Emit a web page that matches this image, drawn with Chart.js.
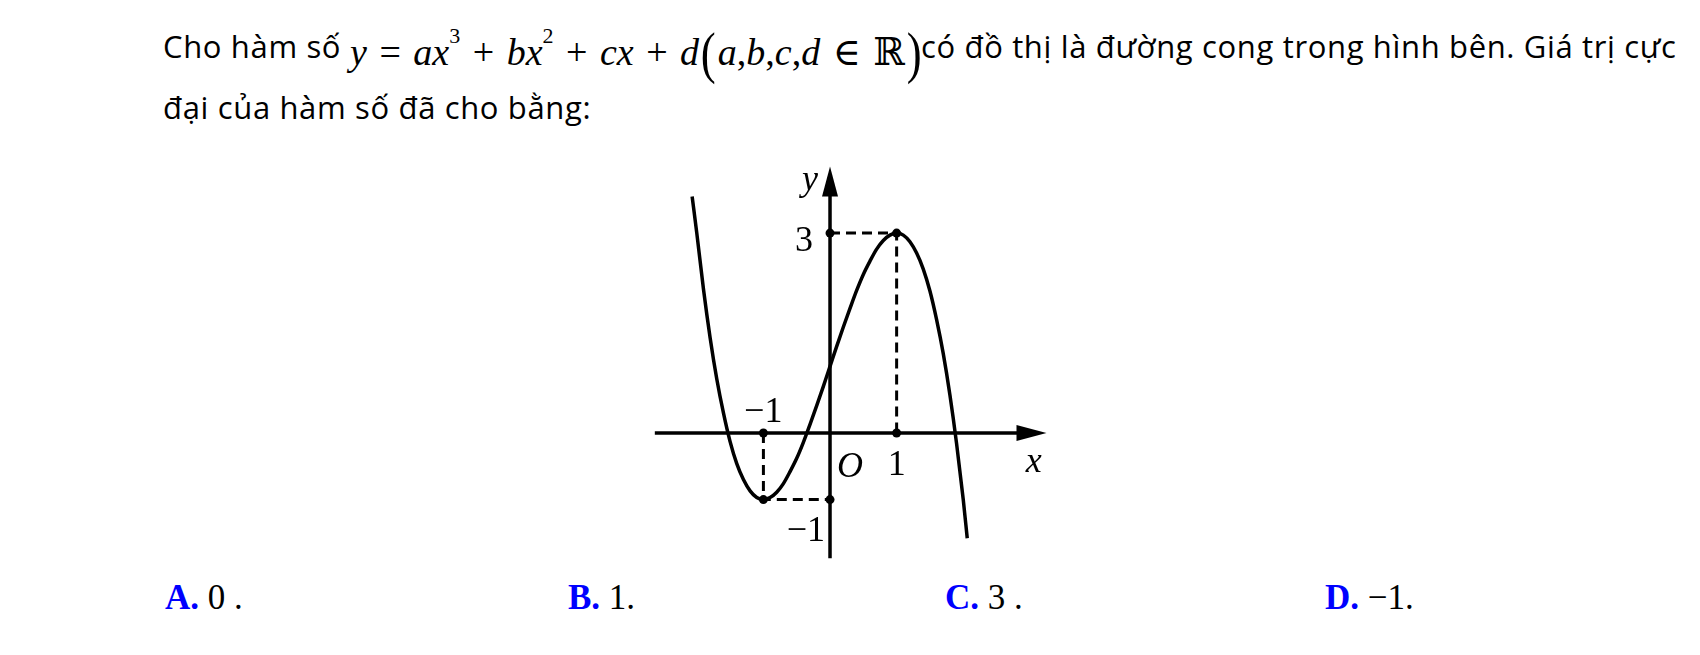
<!DOCTYPE html>
<html>
<head>
<meta charset="utf-8">
<script src="https://cdn.jsdelivr.net/npm/chart.js@4.4.1/dist/chart.umd.min.js"></script>
<style>
  body { margin: 0; background: #fff; }
  #page { position: relative; width: 1700px; height: 655px; overflow: hidden; }
  .txt { position: absolute; font-family: "Open Sans", Lato, sans-serif; font-size: 31px; letter-spacing: 0.65px; color: #000; white-space: nowrap; line-height: 1; }
  .math { position: absolute; font-family: "Liberation Serif", "DejaVu Serif", serif; font-size: 38px; word-spacing: 3px; color: #000; white-space: nowrap; line-height: 1; }
  .math i { font-style: italic; }
  .math sup { font-size: 22px; position: relative; top: -8px; }
  .big { font-size: 56px; display: inline-block; transform: scaleX(0.8); vertical-align: -7px; }
  .ans { position: absolute; font-family: "Liberation Serif", serif; font-size: 35px; color: #000; white-space: nowrap; line-height: 1; }
  .ans b { color: #0000ff; }
  #chart { position: absolute; left: 639px; top: 142px; }
</style>
</head>
<body>
<div id="page">
  <div class="txt" style="left:163px; top:31px;">Cho hàm số</div>
  <div class="math" style="left:350px; top:25px;"><i>y</i> = <i>ax</i><sup>3</sup> + <i>bx</i><sup>2</sup> + <i>cx</i> + <i>d</i><span class="big">(</span><i>a</i>,<i>b</i>,<i>c</i>,<i>d</i> ∈ ℝ<span class="big">)</span></div>
  <div class="txt" style="left:921px; top:31px;">có đồ thị là đường cong trong hình bên. Giá trị cực</div>
  <div class="txt" style="left:163px; top:92px;">đại của hàm số đã cho bằng:</div>

  <div class="ans" style="left:165px; top:580px;"><b>A.</b> 0 .</div>
  <div class="ans" style="left:568px; top:580px;"><b>B.</b> 1.</div>
  <div class="ans" style="left:945px; top:580px;"><b>C.</b> 3 .</div>
  <div class="ans" style="left:1325px; top:580px;"><b>D.</b> −1.</div>

  <canvas id="chart" width="422" height="442"></canvas>
</div>
<script>
// curve (x, y)
const curveX = [-2.07, -2.0, -1.9, -1.8, -1.7, -1.6, -1.5, -1.4, -1.3, -1.2, -1.1, -1.0,
  -0.9, -0.8, -0.7, -0.6, -0.5, -0.4, -0.3, -0.2, -0.1, 0.0, 0.1, 0.2, 0.3, 0.4, 0.5,
  0.6, 0.7, 0.8, 0.9, 1.0, 1.1, 1.2, 1.3, 1.4, 1.5, 1.6, 1.7, 1.8, 1.9, 2.0, 2.06];
const curveY = [3.55, 3.0, 2.16, 1.43, 0.81, 0.30, -0.13, -0.46, -0.70, -0.87, -0.97, -1.0,
  -0.97, -0.89, -0.76, -0.58, -0.38, -0.14, 0.13, 0.41, 0.70, 1.0, 1.30, 1.59, 1.87, 2.14, 2.38,
  2.58, 2.76, 2.89, 2.97, 3.0, 2.97, 2.87, 2.70, 2.46, 2.13, 1.70, 1.19, 0.57, -0.16, -1.0, -1.58];

// marked points and dashed guides
const dotX = [-1, -1, 0, 0, 1, 1];
const dotY = [0, -1, -1, 3, 3, 0];
const guideLeftX = [-1, -1, 0];
const guideLeftY = [0, -1, -1];
const guideRightX = [0, 1, 1];
const guideRightY = [3, 3, 0];

// axis extent
const xAxisFrom = -2.63, xAxisTo = 3.25;
const yAxisFrom = -1.88, yAxisTo = 4.0;

const toPoints = (xs, ys) => xs.map((x, i) => ({ x: x, y: ys[i] }));

const axesPlugin = {
  id: 'axes',
  beforeDatasetsDraw(chart) {
    const ctx = chart.ctx;
    const sx = chart.scales.x, sy = chart.scales.y;
    const x0 = sx.getPixelForValue(0), y0 = sy.getPixelForValue(0);
    ctx.save();
    ctx.strokeStyle = '#000';
    ctx.fillStyle = '#000';
    ctx.lineWidth = 3.5;
    // x axis
    const xa = sx.getPixelForValue(xAxisFrom), xb = sx.getPixelForValue(xAxisTo);
    ctx.beginPath();
    ctx.moveTo(xa, y0);
    ctx.lineTo(xb - 20, y0);
    ctx.stroke();
    ctx.beginPath();
    ctx.moveTo(xb, y0);
    ctx.lineTo(xb - 30, y0 - 8);
    ctx.lineTo(xb - 30, y0 + 8);
    ctx.closePath();
    ctx.fill();
    // y axis
    const ya = sy.getPixelForValue(yAxisFrom), yb = sy.getPixelForValue(yAxisTo);
    ctx.beginPath();
    ctx.moveTo(x0, ya);
    ctx.lineTo(x0, yb + 20);
    ctx.stroke();
    ctx.beginPath();
    ctx.moveTo(x0, yb);
    ctx.lineTo(x0 - 8, yb + 30);
    ctx.lineTo(x0 + 8, yb + 30);
    ctx.closePath();
    ctx.fill();
    ctx.restore();
  },
  afterDraw(chart) {
    const ctx = chart.ctx;
    const sx = chart.scales.x, sy = chart.scales.y;
    const px = v => sx.getPixelForValue(v), py = v => sy.getPixelForValue(v);
    const upright = '36px "Liberation Serif", serif';
    const italic = 'italic 36px "Liberation Serif", serif';
    ctx.save();
    ctx.fillStyle = '#000';
    ctx.textBaseline = 'alphabetic';
    ctx.font = italic;
    ctx.textAlign = 'right';
    ctx.fillText('y', px(0) - 12, py(yAxisTo) + 24);
    ctx.textAlign = 'left';
    ctx.fillText('O', px(0) + 7, py(0) + 44);
    ctx.textAlign = 'center';
    ctx.fillText('x', px(3) + 4, py(0) + 39);
    ctx.font = upright;
    ctx.textAlign = 'right';
    ctx.fillText('3', px(0) - 17, py(3) + 18);
    ctx.fillText('\u22121', px(-1) + 19, py(0) - 11);
    ctx.fillText('\u22121', px(0) - 5, py(-1) + 41);
    ctx.textAlign = 'center';
    ctx.fillText('1', px(1), py(0) + 42);
    ctx.restore();
  }
};

const ctx = document.getElementById('chart').getContext('2d');
new Chart(ctx, {
  type: 'line',
  data: {
    datasets: [
      {
        label: 'curve',
        data: toPoints(curveX, curveY),
        borderColor: '#000',
        borderWidth: 3.5,
        pointRadius: 0,
        cubicInterpolationMode: 'monotone',
        fill: false
      },
      {
        label: 'guide left',
        data: toPoints(guideLeftX, guideLeftY),
        borderColor: '#000',
        borderWidth: 3,
        borderDash: [10, 6],
        pointRadius: 0,
        tension: 0,
        fill: false
      },
      {
        label: 'guide right',
        data: toPoints(guideRightX, guideRightY),
        borderColor: '#000',
        borderWidth: 3,
        borderDash: [10, 6],
        pointRadius: 0,
        tension: 0,
        fill: false
      },
      {
        label: 'dots',
        data: toPoints(dotX, dotY),
        showLine: false,
        pointRadius: 4.5,
        pointBackgroundColor: '#000',
        pointBorderColor: '#000',
        pointBorderWidth: 0
      }
    ]
  },
  options: {
    responsive: false,
    animation: false,
    layout: { padding: 0 },
    plugins: {
      legend: { display: false },
      tooltip: { enabled: false }
    },
    scales: {
      x: { type: 'linear', min: -2.8, max: 3.4, display: false },
      y: { type: 'linear', min: -2.2, max: 4.3, display: false }
    }
  },
  plugins: [axesPlugin]
});
</script>
</body>
</html>
